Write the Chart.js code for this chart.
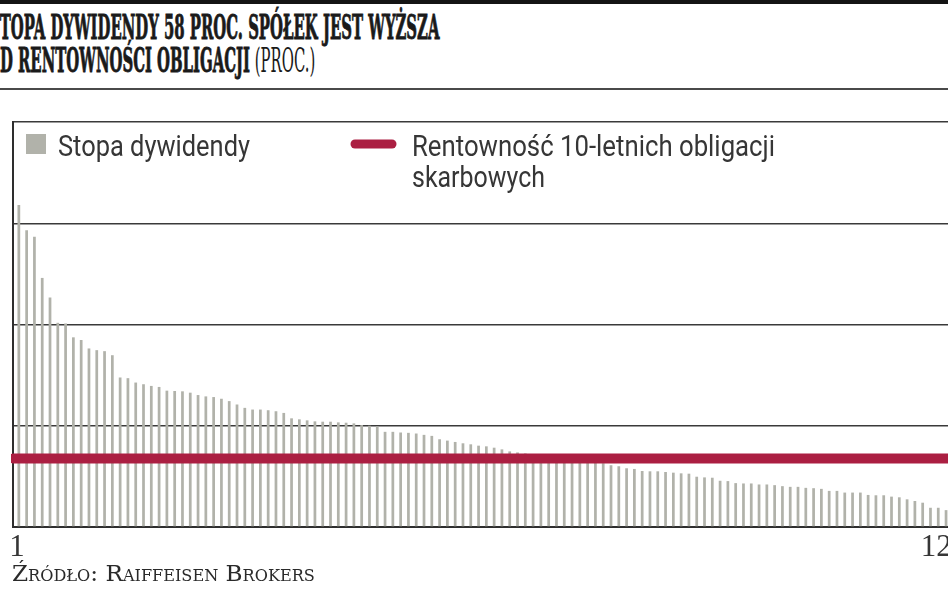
<!DOCTYPE html>
<html lang="pl">
<head>
<meta charset="utf-8">
<script src="https://cdn.jsdelivr.net/npm/chart.js"></script>
<style>
  html, body { margin:0; padding:0; background:#fff; }
  body { width:948px; height:593px; overflow:hidden; position:relative; }
  #topband { position:absolute; left:0; top:0; width:948px; height:4px; background:#141414; }
  #sep { position:absolute; left:0; top:88px; width:948px; height:2px; background:#4a4a4a; }
  .tline { position:absolute; left:0; white-space:nowrap; font-family:"DejaVu Serif Condensed","DejaVu Serif",serif; font-stretch:condensed;
           font-size:34px; line-height:34px; color:#1a1a1a; transform-origin:0 0; }
  .tline b, #t1 { font-weight:bold; -webkit-text-stroke:0.9px #1a1a1a; }
  .tline .reg { font-weight:normal; -webkit-text-stroke:0; }
  #t1 { top:10px; }
  #t2 { top:43px; }
  #src { position:absolute; left:12px; top:562px; white-space:nowrap; font-family:"DejaVu Serif",serif; font-variant:small-caps;
         font-size:23px; line-height:23px; color:#2a2a2a; transform-origin:0 0; }
  canvas { position:absolute; left:0; top:0; }
</style>
</head>
<body>
<div id="topband"></div>
<div class="tline" id="t1"><span id="cut1">S</span>TOPA DYWIDENDY 58 PROC. SPÓŁEK JEST WYŻSZA</div>
<div class="tline" id="t2"><b><span id="cut2">O</span>D RENTOWNOŚCI OBLIGACJI</b> <span class="reg">(PROC.)</span></div>
<div id="sep"></div>
<canvas id="chart" width="948" height="593"></canvas>
<div id="src">Źródło: Raiffeisen Brokers</div>
<script>
// ---------- DATA ----------
const ranks = [
  1,2,3,4,5,6,7,8,9,10,11,12,13,14,15,16,17,18,19,20,
  21,22,23,24,25,26,27,28,29,30,31,32,33,34,35,36,37,38,39,40,
  41,42,43,44,45,46,47,48,49,50,51,52,53,54,55,56,57,58,59,60,
  61,62,63,64,65,66,67,68,69,70,71,72,73,74,75,76,77,78,79,80,
  81,82,83,84,85,86,87,88,89,90,91,92,93,94,95,96,97,98,99,100,
  101,102,103,104,105,106,107,108,109,110,111,112,113,114,115,116,117,118,119,120
];
const dividendYield = [
  9.54, 8.79, 8.60, 7.38, 6.80, 6.05, 6.03, 5.62, 5.54, 5.29,
  5.24, 5.21, 5.09, 4.43, 4.41, 4.28, 4.23, 4.18, 4.15, 4.04,
  4.03, 4.02, 3.98, 3.91, 3.87, 3.85, 3.80, 3.73, 3.63, 3.53,
  3.48, 3.48, 3.46, 3.43, 3.38, 3.22, 3.19, 3.16, 3.13, 3.12,
  3.12, 3.10, 3.09, 3.07, 3.02, 3.00, 2.98, 2.82, 2.82, 2.80,
  2.79, 2.77, 2.73, 2.70, 2.60, 2.56, 2.52, 2.48, 2.45, 2.41,
  2.39, 2.35, 2.30, 2.24, 2.21, 2.18, 2.15, 2.12, 2.09, 2.06,
  2.02, 2.00, 1.98, 1.96, 1.93, 1.89, 1.83, 1.80, 1.74, 1.72,
  1.66, 1.65, 1.65, 1.63, 1.61, 1.59, 1.58, 1.49, 1.47, 1.46,
  1.37, 1.36, 1.30, 1.29, 1.29, 1.26, 1.26, 1.24, 1.21, 1.19,
  1.19, 1.16, 1.15, 1.13, 1.07, 1.07, 1.02, 1.02, 1.02, 0.95,
  0.94, 0.94, 0.90, 0.88, 0.82, 0.77, 0.72, 0.57, 0.57, 0.50
];
const bondYield = [2.03];
const shownTickLabels = ['1', '120'];
const seriesNames = ['Stopa dywidendy', 'Rentowność 10-letnich obligacji', 'skarbowych'];
const yTicks = [0, 3, 6, 9, 12];

// ---------- STYLE ----------
const BAR_COLOR = '#b1b2aa';
const RED = '#ab1f42';
const GRID = '#3a3a3a';
const TEXT = '#363636';

// ---------- title / source fitting ----------
(function fitHeader(){
  const t1 = document.getElementById('t1'), c1 = document.getElementById('cut1');
  const t2 = document.getElementById('t2'), c2 = document.getElementById('cut2');
  const k = 440 / (t1.offsetWidth - c1.offsetWidth);
  t1.style.transform = 'scaleX(' + k + ')';
  t1.style.left = (-c1.offsetWidth * k) + 'px';
  t2.style.transform = 'scaleX(' + k + ')';
  t2.style.left = (-c2.offsetWidth * k) + 'px';
  const src = document.getElementById('src');
  src.style.transform = 'scaleX(' + (303 / src.offsetWidth) + ')';
})();

function fillFit(ctx, text, x, y, w) {
  const m = ctx.measureText(text).width;
  ctx.save();
  ctx.translate(x, y);
  ctx.scale(w / m, 1);
  ctx.fillText(text, 0, 0);
  ctx.restore();
}

const legendPlugin = {
  id: 'pressLegend',
  afterDraw(chart) {
    const ctx = chart.ctx;
    ctx.save();
    ctx.fillStyle = BAR_COLOR;
    ctx.fillRect(26, 134, 20, 20);
    ctx.strokeStyle = RED;
    ctx.lineWidth = 9;
    ctx.lineCap = 'round';
    ctx.beginPath();
    ctx.moveTo(355, 144);
    ctx.lineTo(392, 144);
    ctx.stroke();
    ctx.fillStyle = TEXT;
    ctx.font = '30px Roboto';
    ctx.textBaseline = 'alphabetic';
    fillFit(ctx, seriesNames[0], 58, 156, 192);
    fillFit(ctx, seriesNames[1], 412, 156, 363);
    fillFit(ctx, seriesNames[2], 412, 187, 133);
    ctx.restore();
  }
};

new Chart(document.getElementById('chart'), {
  data: {
    labels: ranks,
    datasets: [
      {
        type: 'line',
        label: seriesNames[1] + ' ' + seriesNames[2],
        data: [{ x: 0, y: bondYield[0] }, { x: 1, y: bondYield[0] }],
        xAxisID: 'x2',
        borderColor: RED,
        borderWidth: 10,
        borderCapStyle: 'round',
        pointRadius: 0,
        fill: false,
        order: 0,
        clip: { left: 2, right: 10, top: 10, bottom: 10 }
      },
      {
        type: 'bar',
        label: seriesNames[0],
        data: dividendYield,
        xAxisID: 'x',
        backgroundColor: BAR_COLOR,
        borderWidth: 0,
        categoryPercentage: 1,
        barPercentage: 0.7,
        order: 1
      }
    ]
  },
  options: {
    responsive: false,
    devicePixelRatio: 1,
    animation: false,
    layout: { padding: { left: 13, top: 122, right: 0, bottom: 20 } },
    plugins: { legend: { display: false }, title: { display: false }, tooltip: { enabled: false } },
    scales: {
      x: {
        type: 'category',
        offset: true,
        afterFit: (s) => { s.paddingLeft = 0; s.paddingRight = 0; s.height = 46; },
        grid: { display: false, drawTicks: false },
        border: { display: true, color: '#2e2e2e', width: 2 },
        ticks: {
          autoSkip: false,
          maxRotation: 0,
          padding: 2,
          color: TEXT,
          font: { family: 'Liberation Serif', size: 31 },
          callback: (v, i, arr) => i === 0 ? shownTickLabels[0] : (i === arr.length - 1 ? shownTickLabels[1] : '')
        }
      },
      x2: { type: 'linear', display: false, min: 0, max: 1 },
      y: {
        min: yTicks[0],
        max: yTicks[yTicks.length - 1],
        afterBuildTicks: (s) => { s.ticks = yTicks.map(v => ({ value: v })); },
        ticks: { display: false },
        grid: { color: GRID, lineWidth: 1.5, drawTicks: false },
        border: { display: true, color: '#2e2e2e', width: 2 }
      }
    }
  },
  plugins: [legendPlugin]
});
</script>
</body>
</html>
